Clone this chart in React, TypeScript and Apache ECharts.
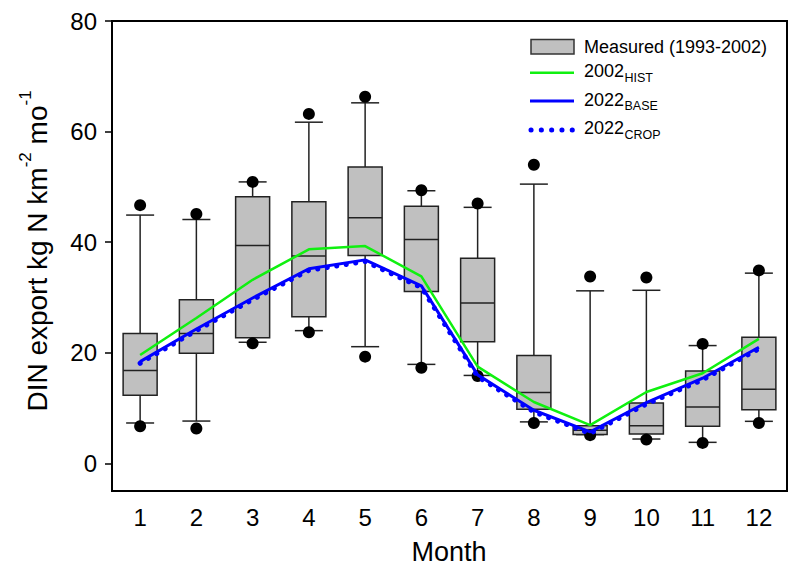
import React, { useEffect, useRef } from "react";
import * as echarts from "echarts";

const months = ["1", "2", "3", "4", "5", "6", "7", "8", "9", "10", "11", "12"];
const whiskerLow = [7.3, 7.65, 21.9, 24.0, 21.1, 17.9, 15.9, 7.5, 5.2, 4.4, 3.8, 7.6];
const q1 = [12.3, 19.9, 22.7, 26.5, 37.6, 31.1, 22.0, 9.8, 5.2, 5.3, 6.7, 9.7];
const median = [16.8, 23.5, 39.4, 37.5, 44.4, 40.5, 29.0, 12.8, 6.0, 6.8, 10.2, 13.4];
const q3 = [23.5, 29.6, 48.2, 47.3, 53.6, 46.5, 37.1, 19.5, 6.8, 10.9, 16.7, 22.8];
const whiskerHigh = [44.9, 44.1, 50.9, 61.7, 65.2, 49.3, 46.3, 50.5, 31.2, 31.3, 21.3, 34.4];
const outlierHigh = [46.7, 45.1, 50.9, 63.2, 66.3, 49.4, 47.0, 54.0, 33.8, 33.6, 21.6, 34.9];
const outlierLow = [6.7, 6.3, 21.7, 23.7, 19.3, 17.3, 15.8, 7.3, 5.1, 4.3, 3.7, 7.3];
const hist2002 = [19.6, 26.3, 33.2, 38.7, 39.3, 33.8, 17.5, 11.1, 6.9, 12.9, 16.3, 22.5];
const base2022 = [18.4, 24.3, 29.9, 35.2, 36.8, 32.1, 16.0, 9.6, 5.7, 11.0, 15.4, 21.0];
const crop2022 = [18.1, 24.0, 29.6, 34.9, 36.5, 31.8, 15.7, 9.3, 5.4, 10.7, 15.1, 20.7];
const yTicks = [0, 20, 40, 60, 80];

const FONT = "'Liberation Sans', Arial, sans-serif";
const GREEN = "#10f010";
const BLUE = "#0000ff";

export default function App() {
  const ref = useRef<HTMLDivElement>(null);
  useEffect(() => {
    if (!ref.current) return;
    const chart = echarts.init(ref.current, null, { renderer: "svg" });
    const boxData = months.map((_, i) => [i, whiskerLow[i], q1[i], median[i], q3[i], whiskerHigh[i]]);
    const stroke = { stroke: "#222", lineWidth: 1.5 };
    const legText = (text: string, x: number, y: number, size: number) => ({
      type: "text",
      x,
      y,
      style: { text, fontSize: size, fontFamily: FONT, fill: "#000", verticalAlign: "middle" },
    });
    const option: any = {
      animation: false,
      backgroundColor: "#fff",
      textStyle: { fontFamily: FONT },
      grid: { left: 112, top: 21, right: 13, bottom: 83, show: true, borderColor: "#000", borderWidth: 2, backgroundColor: "transparent" },
      xAxis: {
        type: "category",
        data: months,
        boundaryGap: true,
        axisLine: { onZero: false, lineStyle: { color: "#000", width: 2 } },
        axisTick: { alignWithLabel: true, length: 6, lineStyle: { color: "#000", width: 1.5 } },
        axisLabel: { color: "#000", fontSize: 24, margin: 14, fontFamily: FONT },
        splitLine: { show: false },
      },
      yAxis: {
        type: "value",
        min: -5,
        max: 80,
        axisLine: { show: true, onZero: false, lineStyle: { color: "#000", width: 2 } },
        axisTick: { show: true, length: 7, customValues: yTicks, lineStyle: { color: "#000", width: 1.5 } },
        axisLabel: { color: "#000", fontSize: 24, margin: 15, customValues: yTicks, fontFamily: FONT },
        splitLine: { show: false },
      },
      graphic: [
        {
          type: "text",
          x: 34,
          y: 251,
          rotation: Math.PI / 2,
          style: {
            text: "{m|DIN export kg N km}{p|-2}{m| mo}{p|-1}",
            align: "center",
            verticalAlign: "middle",
            fill: "#000",
            rich: {
              m: { fontSize: 28, lineHeight: 34, verticalAlign: "bottom", fontFamily: FONT, fill: "#000" },
              p: { fontSize: 17, lineHeight: 17, verticalAlign: "top", fontFamily: FONT, fill: "#000" },
            },
          },
        },
        {
          type: "text",
          x: 449,
          y: 552,
          style: { text: "Month", fontSize: 27, fontFamily: FONT, fill: "#000", align: "center", verticalAlign: "middle" },
        },
        { type: "rect", shape: { x: 531, y: 39.5, width: 43, height: 14.5 }, style: { fill: "#c0c0c0", stroke: "#333", lineWidth: 1.5 } },
        legText("Measured (1993-2002)", 584, 47, 18),
        { type: "line", shape: { x1: 530, y1: 72.7, x2: 574, y2: 72.7 }, style: { stroke: GREEN, lineWidth: 2.5 } },
        legText("2002", 584, 71, 18),
        legText("HIST", 624.5, 77.5, 12.5),
        { type: "line", shape: { x1: 530, y1: 101, x2: 574, y2: 101 }, style: { stroke: BLUE, lineWidth: 3 } },
        legText("2022", 584, 99.5, 18),
        legText("BASE", 624.5, 106, 12.5),
        { type: "line", shape: { x1: 531, y1: 130, x2: 574, y2: 130 }, style: { stroke: BLUE, lineWidth: 5, lineDash: [0.1, 10.2], lineCap: "round" } },
        legText("2022", 584, 128, 18),
        legText("CROP", 624.5, 134.5, 12.5),
      ],
      series: [
        {
          type: "custom",
          name: "Measured (1993-2002)",
          data: boxData,
          encode: { x: 0, y: [1, 2, 3, 4, 5] },
          z: 2,
          renderItem: (params: any, api: any) => {
            const idx = api.value(0);
            const x = api.coord([idx, 0])[0];
            const yLo = api.coord([idx, api.value(1)])[1];
            const yQ1 = api.coord([idx, api.value(2)])[1];
            const yMed = api.coord([idx, api.value(3)])[1];
            const yQ3 = api.coord([idx, api.value(4)])[1];
            const yHi = api.coord([idx, api.value(5)])[1];
            const hw = 17;
            const cw = 14;
            return {
              type: "group",
              children: [
                { type: "line", shape: { x1: x, y1: yHi, x2: x, y2: yQ3 }, style: stroke },
                { type: "line", shape: { x1: x - cw, y1: yHi, x2: x + cw, y2: yHi }, style: stroke },
                { type: "line", shape: { x1: x, y1: yQ1, x2: x, y2: yLo }, style: stroke },
                { type: "line", shape: { x1: x - cw, y1: yLo, x2: x + cw, y2: yLo }, style: stroke },
                { type: "rect", shape: { x: x - hw, y: yQ3, width: hw * 2, height: yQ1 - yQ3 }, style: { fill: "#c0c0c0", stroke: "#222", lineWidth: 1.5 } },
                { type: "line", shape: { x1: x - hw, y1: yMed, x2: x + hw, y2: yMed }, style: stroke },
              ],
            };
          },
        },
        {
          type: "scatter",
          data: outlierHigh.map((v, i) => [i, v]).concat(outlierLow.map((v, i) => [i, v])),
          symbol: "circle",
          symbolSize: 12,
          itemStyle: { color: "#000", opacity: 1 },
          z: 3,
        },
        {
          type: "line",
          name: "2002HIST",
          data: hist2002,
          symbol: "none",
          lineStyle: { color: GREEN, width: 2.5 },
          z: 4,
        },
        {
          type: "line",
          name: "2022BASE",
          data: base2022,
          symbol: "none",
          lineStyle: { color: BLUE, width: 3 },
          z: 5,
        },
        {
          type: "line",
          name: "2022CROP",
          data: crop2022,
          symbol: "none",
          lineStyle: { color: BLUE, width: 5, type: [0.1, 9.5], cap: "round" },
          z: 6,
        },
      ],
    };
    chart.setOption(option);
    return () => chart.dispose();
  }, []);
  return <div ref={ref} style={{ position: "fixed", left: 0, top: 0, width: 800, height: 574, background: "#fff" }} />;
}
